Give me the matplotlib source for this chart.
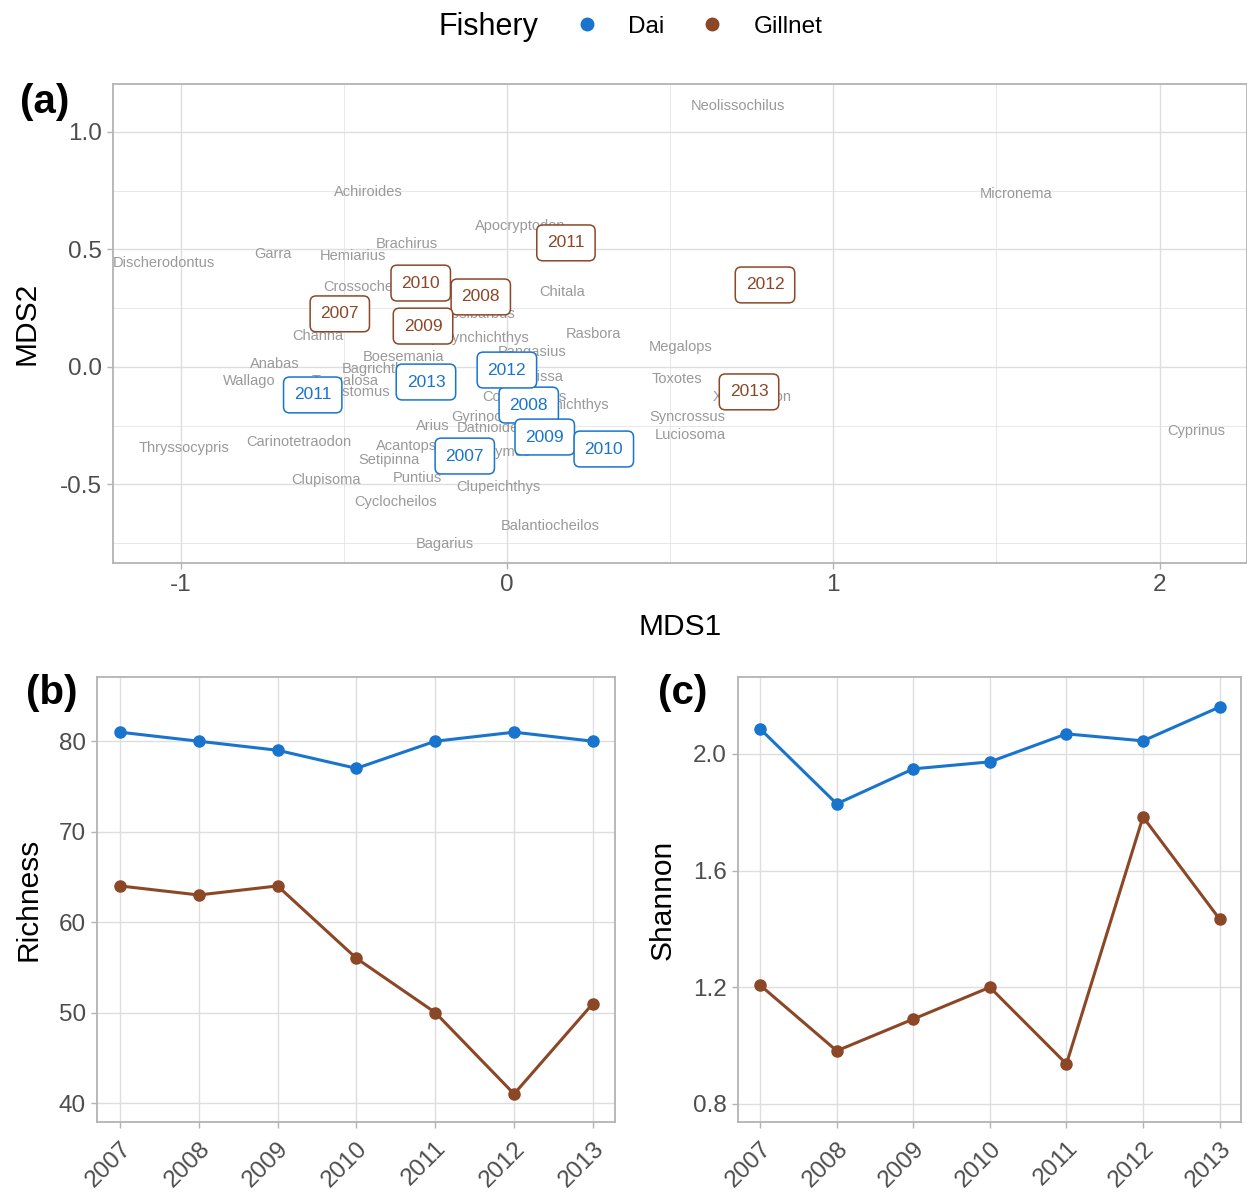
import numpy as np
import matplotlib.pyplot as plt
from matplotlib.lines import Line2D
from matplotlib.ticker import MultipleLocator

plt.rcParams['font.family'] = ['Liberation Sans', 'DejaVu Sans']

# --- data ---
years = [2007, 2008, 2009, 2010, 2011, 2012, 2013]

# NMDS site scores (panel a)
dai_mds1 = [-0.129, 0.067, 0.116, 0.297, -0.595, 0.000, -0.248]
dai_mds2 = [-0.379, -0.162, -0.298, -0.349, -0.119, -0.013, -0.064]
gill_mds1 = [-0.512, -0.080, -0.257, -0.264, 0.181, 0.791, 0.742]
gill_mds2 = [0.226, 0.298, 0.174, 0.357, 0.528, 0.349, -0.106]

# species scores
species = ['Neolissochilus', 'Micronema', 'Achiroides', 'Apocryptodon', 'Brachirus',
           'Discherodontus', 'Garra', 'Hemiarius', 'Crossocheilus', 'Chitala',
           'Channa', 'Rasbora', 'Hypsibarbus', 'Amblyrhynchichthys', 'Pangasius',
           'Megalops', 'Boesemania', 'Anabas', 'Bagrichthys', 'Wallago',
           'Tenualosa', 'Systomus', 'Lycothrissa', 'Cosmochilus', 'Thynnichthys',
           'Gyrinocheilus', 'Datnioides', 'Barbonymus', 'Arius', 'Acantopsis',
           'Setipinna', 'Puntius', 'Clupeichthys', 'Cyclocheilos', 'Balantiocheilos',
           'Bagarius', 'Clupisoma', 'Carinotetraodon', 'Thryssocypris', 'Toxotes',
           'Xenentodon', 'Syncrossus', 'Luciosoma', 'Cyprinus']
sp_mds1 = [0.708, 1.560, -0.423, 0.040, -0.306,
           -1.051, -0.717, -0.472, -0.420, 0.169,
           -0.579, 0.264, -0.100, -0.129, 0.077,
           0.533, -0.316, -0.711, -0.389, -0.791,
           -0.496, -0.457, 0.061, 0.055, 0.180,
           -0.034, -0.046, -0.052, -0.227, -0.291,
           -0.362, -0.273, -0.025, -0.340, 0.132,
           -0.190, -0.555, -0.637, -0.990, 0.521,
           0.751, 0.552, 0.561, 2.112]
sp_mds2 = [1.111, 0.736, 0.745, 0.600, 0.523,
           0.443, 0.481, 0.472, 0.340, 0.319,
           0.132, 0.140, 0.226, 0.123, 0.064,
           0.085, 0.043, 0.013, -0.009, -0.060,
           -0.060, -0.106, -0.043, -0.128, -0.162,
           -0.213, -0.260, -0.362, -0.251, -0.336,
           -0.396, -0.472, -0.511, -0.574, -0.677,
           -0.753, -0.481, -0.319, -0.345, -0.051,
           -0.128, -0.213, -0.289, -0.272]

# diversity (panels b, c)
dai_richness = [81, 80, 79, 77, 80, 81, 80]
gill_richness = [64, 63, 64, 56, 50, 41, 51]
dai_shannon = [2.086, 1.829, 1.949, 1.973, 2.069, 2.045, 2.161]
gill_shannon = [1.207, 0.982, 1.091, 1.200, 0.937, 1.784, 1.434]

DAI = '#1874CD'
GILL = '#8B4726'
BORDER = '#B3B3B3'
GRID = '#DEDEDE'


def style_axes(ax):
    for s in ax.spines.values():
        s.set_color(BORDER)
        s.set_linewidth(1.3)
    ax.tick_params(colors=BORDER, labelcolor='#4D4D4D', labelsize=17.5,
                   length=4, width=1, pad=4)
    ax.grid(True, which='major', color=GRID, lw=1.0, zorder=0)
    ax.set_axisbelow(True)


fig = plt.figure(figsize=(12.47, 11.94), dpi=100)

# --- panel a ---
ax = fig.add_axes([113 / 1247, 1 - 563 / 1194, 1134 / 1247, 479 / 1194])
style_axes(ax)
ax.xaxis.set_minor_locator(MultipleLocator(0.5))
ax.yaxis.set_minor_locator(MultipleLocator(0.25))
ax.grid(True, which='minor', color=GRID, lw=0.5, zorder=0)
ax.tick_params(which='minor', length=0)
ax.set_xlim(-1.207, 2.268)
ax.set_ylim(-0.834, 1.204)
ax.set_xticks([-1, 0, 1, 2])
ax.set_xticklabels(['-1', '0', '1', '2'])
ax.set_yticks([-0.5, 0.0, 0.5, 1.0])
ax.set_yticklabels(['-0.5', '0.0', '0.5', '1.0'])

for name, x, y in zip(species, sp_mds1, sp_mds2):
    ax.text(x, y, name, ha='center', va='center', fontsize=10.5,
            color='#999999', zorder=2)

for xs, ys, col in [(gill_mds1, gill_mds2, GILL), (dai_mds1, dai_mds2, DAI)]:
    for yr, x, y in zip(years, xs, ys):
        ax.text(x, y, str(yr), ha='center', va='center', fontsize=12.5,
                color=col, zorder=3,
                bbox=dict(boxstyle='round,pad=0.6,rounding_size=0.35',
                          fc='white', ec=col, lw=1.1))

ax.set_xlabel('MDS1', fontsize=21.5, labelpad=12)
ax.set_ylabel('MDS2', fontsize=21.5, labelpad=14)

# --- panels b and c ---
axb = fig.add_axes([97 / 1247, 1 - 1122 / 1194, 518 / 1247, 445 / 1194])
axc = fig.add_axes([738 / 1247, 1 - 1122 / 1194, 503 / 1247, 445 / 1194])

for a, dai, gill, lab in [(axb, dai_richness, gill_richness, 'Richness'),
                          (axc, dai_shannon, gill_shannon, 'Shannon')]:
    style_axes(a)
    a.plot(years, dai, color=DAI, lw=2.2, marker='o', ms=8, zorder=3)
    a.plot(years, gill, color=GILL, lw=2.2, marker='o', ms=8, zorder=3)
    a.set_xlim(2006.71, 2013.28)
    a.set_xticks(years)
    a.set_xticklabels([str(y) for y in years], rotation=45, ha='right',
                      va='top', rotation_mode='anchor')
    a.tick_params(axis='x', labelsize=17.5, pad=7)
    a.set_ylabel(lab, fontsize=21.5, labelpad=12)

axb.set_ylim(37.9, 87.1)
axb.set_yticks([40, 50, 60, 70, 80])
axc.set_ylim(0.738, 2.264)
axc.set_yticks([0.8, 1.2, 1.6, 2.0])
axc.set_yticklabels(['0.8', '1.2', '1.6', '2.0'])

# panel tags
fig.text(20 / 1247, 1 - 102 / 1194, '(a)', fontsize=29, fontweight='bold',
         ha='left', va='center')
fig.text(26 / 1247, 1 - 693 / 1194, '(b)', fontsize=29, fontweight='bold',
         ha='left', va='center')
fig.text(658 / 1247, 1 - 693 / 1194, '(c)', fontsize=29, fontweight='bold',
         ha='left', va='center')

# legend
fig.text(488 / 1247, 1 - 27 / 1194, 'Fishery', fontsize=22, ha='center',
         va='center')
handles = [Line2D([], [], ls='none', marker='o', ms=9, color=DAI),
           Line2D([], [], ls='none', marker='o', ms=9, color=GILL)]
fig.legend(handles, ['Dai', 'Gillnet'], loc='center left',
           bbox_to_anchor=(575 / 1247, 1 - 27 / 1194), ncol=2, frameon=False,
           fontsize=17.5, handlelength=1.0, handletextpad=1.2, columnspacing=1.45,
           borderpad=0, borderaxespad=0)

fig.savefig('out.png', dpi=100, facecolor='white')
